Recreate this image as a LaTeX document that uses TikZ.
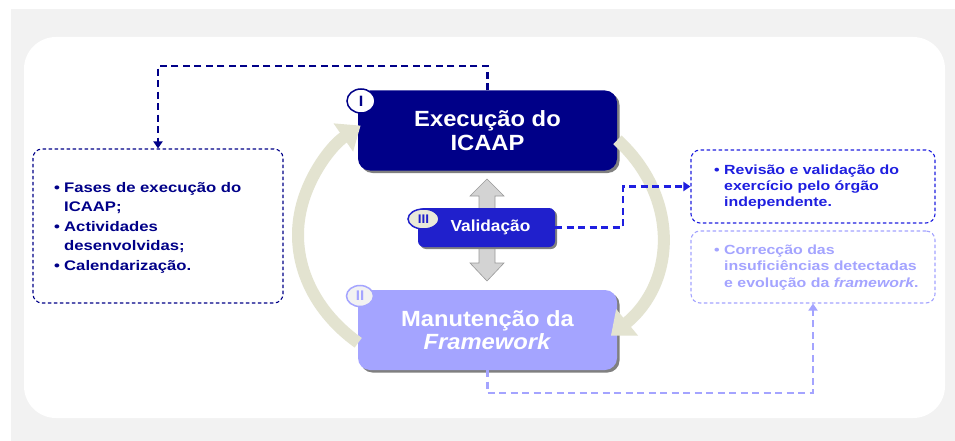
\documentclass[tikz,border=0pt]{standalone}
\usepackage{fontspec}
\setmainfont{Liberation Sans}
\newfontfamily\bigf{Liberation Sans}[FakeStretch=1.08]
\newfontfamily\smallf{Liberation Sans}[FakeStretch=1.2]
\usetikzlibrary{arrows.meta,shapes.geometric,shadows}
\definecolor{cNavy}{HTML}{000088}
\definecolor{cVal}{HTML}{2020CC}
\definecolor{cBlue}{HTML}{1F1FE0}
\definecolor{cLav}{HTML}{A4A4FF}
\definecolor{cRing}{HTML}{E3E3D0}
\definecolor{cPanel}{HTML}{F2F2F2}
\definecolor{cShadow}{HTML}{808080}
\definecolor{cArrow}{HTML}{D3D3D3}
\tikzset{
  mainbox/.style={rectangle, rounded corners=12pt, minimum width=259pt, minimum height=80pt,
    inner sep=0pt, text=white, align=center,
    font={\fontsize{22}{23.5}\selectfont\bigf\bfseries},
    drop shadow={shadow xshift=2.5pt, shadow yshift=-2.5pt, fill=cShadow, opacity=1}},
  valbox/.style={rectangle, rounded corners=6pt, minimum width=137pt, minimum height=39pt,
    inner sep=0pt, fill=cVal, text=white,
    font={\fontsize{16}{18}\selectfont\bigf\bfseries},
    drop shadow={shadow xshift=2pt, shadow yshift=-2pt, fill=cShadow, opacity=1}},
  badge/.style={ellipse, inner sep=0pt, line width=1.5pt, font={\bigf\bfseries}},
  infobox/.style={rectangle, rounded corners=9pt, dash pattern=on 3.5pt off 2.5pt, line width=1.1pt},
  infotext/.style={inner sep=0pt, anchor=west, align=left},
  ring/.style={line width=12pt, draw=cRing, -{Triangle[length=21pt,width=33pt]}},
  conn/.style={line width=2.2pt, dash pattern=on 7pt off 4.5pt, -{Triangle[length=7pt,width=9pt]}},
}
\newcommand{\bul}{\makebox[10pt][l]{•}}
\newcommand{\ind}{\hspace*{10pt}}
\begin{document}
\begin{tikzpicture}[x=1pt,y=1pt]
\useasboundingbox (0,0) rectangle (955,-441);
% background
\fill[cPanel] (11,-9) rectangle (955,-441);
\fill[white, rounded corners=32pt] (24,-37) rectangle (945,-418);

% grey double arrow
\path[fill=cArrow, draw=gray!80, line width=0.6pt]
  (487,-179) -- (504,-196) -- (495,-196) -- (495,-263) -- (504,-263) -- (487,-281)
  -- (470,-263) -- (479,-263) -- (479,-196) -- (470,-196) -- cycle;

% main boxes
\node[mainbox, fill=cNavy] (top) at (487.5,-130.5) {Execução do\\ICAAP};
\node[mainbox, fill=cLav] (bot) at (487.5,-330) {Manutenção da\\\textit{Framework}};
\node[valbox] (val) at (486.5,-227.5) {\hspace*{8pt}Validação};

% badges
\node[badge, draw=cNavy, fill=white, text=cNavy, minimum width=28pt, minimum height=24pt,
  font={\fontsize{15}{15}\selectfont\bigf\bfseries}] (bI) at (361,-101) {I};
\node[badge, draw=cVal, fill=cRing!80!white, text=cVal, minimum width=31pt, minimum height=20pt,
  font={\fontsize{12.5}{12.5}\selectfont\bigf\bfseries}] (bIII) at (423.5,-219) {III};
\node[badge, draw=cLav, fill=cPanel, text=cLav, minimum width=27pt, minimum height=21pt,
  font={\fontsize{14}{14}\selectfont\bigf\bfseries}] (bII) at (360,-296) {II};

% cycle arcs
\draw[ring] (480,-235) ++(228:182 and 145) arc[start angle=228, end angle=131, x radius=182, y radius=145];
\draw[ring] (480,-235) ++(41:182 and 145) arc[start angle=41, end angle=-44, x radius=182, y radius=145];

% information boxes
\node[infobox, draw=cNavy, minimum width=250pt, minimum height=154pt] (lb) at (158,-226) {};
\node[infobox, draw=cBlue, minimum width=244pt, minimum height=73pt] (rt) at (813,-186.5) {};
\node[infobox, draw=cLav, minimum width=244pt, minimum height=72pt] (rb) at (813,-267) {};

\node[infotext, text=cNavy, font={\fontsize{13.9}{19.5}\selectfont\smallf\bfseries}] (lt) at (54,-227.5)
  {\bul Fases de execução do\\\ind ICAAP;\\\bul Actividades\\\ind desenvolvidas;\\\bul Calendarização.};
\node[infotext, text=cBlue, font={\fontsize{13.25}{16.2}\selectfont\smallf\bfseries}] (rtt) at (714,-187)
  {\bul Revisão e validação do\\\ind exercício pelo órgão\\\ind independente.};
\node[infotext, text=cLav, font={\fontsize{13.25}{16.5}\selectfont\smallf\bfseries}] (rbt) at (714,-267.5)
  {\bul Correcção das\\\ind insuficiências detectadas\\\ind e evolução da \textit{framework}.};

% connectors
\coordinate (c1) at (487.5,-66);
\draw[conn, draw=cNavy] (top.north) -- (c1) -| (lb.north);
\coordinate (c2) at (623,-227.5);
\draw[conn, draw=cBlue] (val.east) -- (c2) |- (rt.west);
\coordinate (c3) at (487.5,-393);
\draw[conn, draw=cLav] (bot.south) -- (c3) -| (rb.south);
\end{tikzpicture}
\end{document}
